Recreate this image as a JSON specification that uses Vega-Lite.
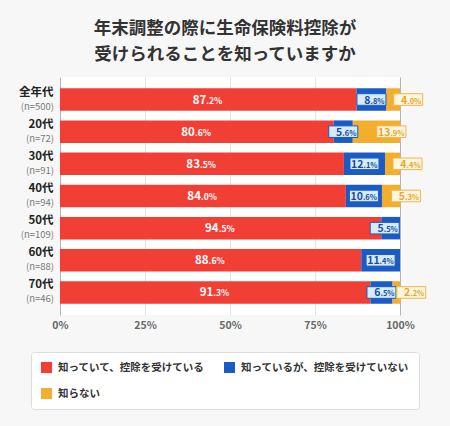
{
  "$schema": "https://vega.github.io/schema/vega-lite/v6.json",
  "autosize": {"type": "none"},
  "width": 340,
  "height": 238,
  "padding": {"left": 60, "top": 77, "right": 50, "bottom": 111},
  "background": "#f7f7f7",
  "title": {
    "text": ["年末調整の際に生命保険料控除が", "受けられることを知っていますか"],
    "fontSize": 17.5,
    "fontWeight": "bold",
    "color": "#333333",
    "font": "Noto Sans CJK JP",
    "lineHeight": 26,
    "anchor": "middle",
    "dx": -5,
    "offset": 14
  },
  "config": {
    "view": {"fill": "white", "stroke": null},
    "font": "Noto Sans CJK JP"
  },
  "data": {
    "values": [
      {"group": "全年代", "n": "(n=500)", "cat": "知っていて、控除を受けている", "order": 1, "value": 87.2},
      {"group": "全年代", "n": "(n=500)", "cat": "知っているが、控除を受けていない", "order": 2, "value": 8.8},
      {"group": "全年代", "n": "(n=500)", "cat": "知らない", "order": 3, "value": 4.0},
      {"group": "20代", "n": "(n=72)", "cat": "知っていて、控除を受けている", "order": 1, "value": 80.6},
      {"group": "20代", "n": "(n=72)", "cat": "知っているが、控除を受けていない", "order": 2, "value": 5.6},
      {"group": "20代", "n": "(n=72)", "cat": "知らない", "order": 3, "value": 13.9},
      {"group": "30代", "n": "(n=91)", "cat": "知っていて、控除を受けている", "order": 1, "value": 83.5},
      {"group": "30代", "n": "(n=91)", "cat": "知っているが、控除を受けていない", "order": 2, "value": 12.1},
      {"group": "30代", "n": "(n=91)", "cat": "知らない", "order": 3, "value": 4.4},
      {"group": "40代", "n": "(n=94)", "cat": "知っていて、控除を受けている", "order": 1, "value": 84.0},
      {"group": "40代", "n": "(n=94)", "cat": "知っているが、控除を受けていない", "order": 2, "value": 10.6},
      {"group": "40代", "n": "(n=94)", "cat": "知らない", "order": 3, "value": 5.3},
      {"group": "50代", "n": "(n=109)", "cat": "知っていて、控除を受けている", "order": 1, "value": 94.5},
      {"group": "50代", "n": "(n=109)", "cat": "知っているが、控除を受けていない", "order": 2, "value": 5.5},
      {"group": "60代", "n": "(n=88)", "cat": "知っていて、控除を受けている", "order": 1, "value": 88.6},
      {"group": "60代", "n": "(n=88)", "cat": "知っているが、控除を受けていない", "order": 2, "value": 11.4},
      {"group": "70代", "n": "(n=46)", "cat": "知っていて、控除を受けている", "order": 1, "value": 91.3},
      {"group": "70代", "n": "(n=46)", "cat": "知っているが、控除を受けていない", "order": 2, "value": 6.5},
      {"group": "70代", "n": "(n=46)", "cat": "知らない", "order": 3, "value": 2.2}
    ]
  },
  "transform": [
    {"stack": "value", "groupby": ["group"], "sort": [{"field": "order"}], "as": ["x0", "x1"], "offset": "normalize"},
    {"calculate": "(datum.x0 + datum.x1) / 2", "as": "mid"},
    {"calculate": "datum.order === 2 ? min(datum.mid, 0.955) : datum.mid", "as": "labelX"},
    {"calculate": "format(floor(datum.value), 'd')", "as": "intPart"},
    {"calculate": "'.' + format(round(datum.value * 10) % 10, 'd') + '%'", "as": "decPart"}
  ],
  "encoding": {
    "y": {
      "field": "group",
      "type": "nominal",
      "sort": ["全年代", "20代", "30代", "40代", "50代", "60代", "70代"],
      "scale": {"paddingInner": 0.3, "paddingOuter": 0.35},
      "axis": {
        "title": null,
        "ticks": false,
        "domain": false,
        "labelFontSize": 11.5,
        "labelFontWeight": "bold",
        "labelColor": "#222222",
        "labelPadding": 7,
        "labelOffset": -7
      }
    }
  },
  "layer": [
    {
      "mark": {"type": "bar"},
      "encoding": {
        "x": {
          "field": "x0",
          "type": "quantitative",
          "scale": {"domain": [0, 1], "clamp": true},
          "axis": {
            "title": null,
            "values": [0, 0.25, 0.5, 0.75, 1],
            "format": ".0%",
            "ticks": false,
            "domain": false,
            "labelFlush": false,
            "labelFontSize": 10.5,
            "labelFontWeight": "bold",
            "labelColor": "#666666",
            "labelPadding": 5,
            "grid": true,
            "gridColor": {"condition": {"test": "datum.value === 0 || datum.value === 1", "value": "#b5b5b5"}, "value": "#e4e4e4"},
            "gridWidth": 1
          }
        },
        "x2": {"field": "x1"},
        "color": {
          "field": "cat",
          "type": "nominal",
          "scale": {
            "domain": ["知っていて、控除を受けている", "知っているが、控除を受けていない", "知らない"],
            "range": ["#f23f35", "#1c5bc5", "#f2ae2e"]
          },
          "legend": {
            "title": null,
            "orient": "none",
            "legendX": -29,
            "legendY": 275,
            "direction": "horizontal",
            "columns": 2,
            "columnPadding": 19,
            "rowPadding": 15,
            "padding": 10,
            "fillColor": "white",
            "strokeColor": "#dddddd",
            "cornerRadius": 3,
            "symbolType": "square",
            "symbolSize": 121,
            "symbolStrokeWidth": 0,
            "labelFontSize": 10.5,
            "labelFontWeight": "bold",
            "labelColor": "#333333",
            "labelOffset": 6,
            "labelLimit": 300
          }
        },
        "order": {"field": "order"}
      }
    },
    {
      "transform": [{"filter": "datum.order === 1"}],
      "mark": {"type": "text", "align": "right", "dx": -6, "dy": 7, "fontSize": 9.5, "color": "#777777"},
      "encoding": {
        "x": {"datum": 0, "type": "quantitative"},
        "text": {"field": "n"}
      }
    },
    {
      "transform": [{"filter": "datum.order === 1"}],
      "mark": {"type": "text", "align": "right", "baseline": "alphabetic", "dx": -2, "dy": 4, "fontSize": 11.5, "fontWeight": "bold", "color": "white"},
      "encoding": {
        "x": {"field": "mid", "type": "quantitative"},
        "text": {"field": "intPart"}
      }
    },
    {
      "transform": [{"filter": "datum.order === 1"}],
      "mark": {"type": "text", "align": "left", "baseline": "alphabetic", "dx": -2, "dy": 4, "fontSize": 8.5, "fontWeight": "bold", "color": "white"},
      "encoding": {
        "x": {"field": "mid", "type": "quantitative"},
        "text": {"field": "decPart"}
      }
    },
    {
      "transform": [{"filter": "datum.order === 2"}],
      "mark": {"type": "point", "shape": "M-1,-0.4H1V0.4H-1Z", "size": 841, "filled": true, "fill": "#d4ecfd", "stroke": "#1c5bc5", "strokeWidth": 1, "opacity": 1},
      "encoding": {
        "x": {"field": "labelX", "type": "quantitative"}
      }
    },
    {
      "transform": [{"filter": "datum.order === 2"}],
      "mark": {"type": "text", "align": "right", "baseline": "alphabetic", "dx": -1, "dy": 4, "fontSize": 10.5, "fontWeight": "bold", "color": "#1b4c9c"},
      "encoding": {
        "x": {"field": "labelX", "type": "quantitative"},
        "text": {"field": "intPart"}
      }
    },
    {
      "transform": [{"filter": "datum.order === 2"}],
      "mark": {"type": "text", "align": "left", "baseline": "alphabetic", "dx": -1, "dy": 4, "fontSize": 7.5, "fontWeight": "bold", "color": "#1b4c9c"},
      "encoding": {
        "x": {"field": "labelX", "type": "quantitative"},
        "text": {"field": "decPart"}
      }
    },
    {
      "transform": [{"filter": "datum.order === 3"}],
      "mark": {"type": "point", "shape": "M-1,-0.4H1V0.4H-1Z", "size": 841, "filled": true, "fill": "#fff6e0", "stroke": "#f3b640", "strokeWidth": 1, "opacity": 1, "xOffset": 15},
      "encoding": {
        "x": {"field": "mid", "type": "quantitative"}
      }
    },
    {
      "transform": [{"filter": "datum.order === 3"}],
      "mark": {"type": "text", "align": "right", "baseline": "alphabetic", "dx": 14, "dy": 4, "fontSize": 10.5, "fontWeight": "bold", "color": "#e9a532"},
      "encoding": {
        "x": {"field": "mid", "type": "quantitative"},
        "text": {"field": "intPart"}
      }
    },
    {
      "transform": [{"filter": "datum.order === 3"}],
      "mark": {"type": "text", "align": "left", "baseline": "alphabetic", "dx": 14, "dy": 4, "fontSize": 7.5, "fontWeight": "bold", "color": "#e9a532"},
      "encoding": {
        "x": {"field": "mid", "type": "quantitative"},
        "text": {"field": "decPart"}
      }
    }
  ]
}
